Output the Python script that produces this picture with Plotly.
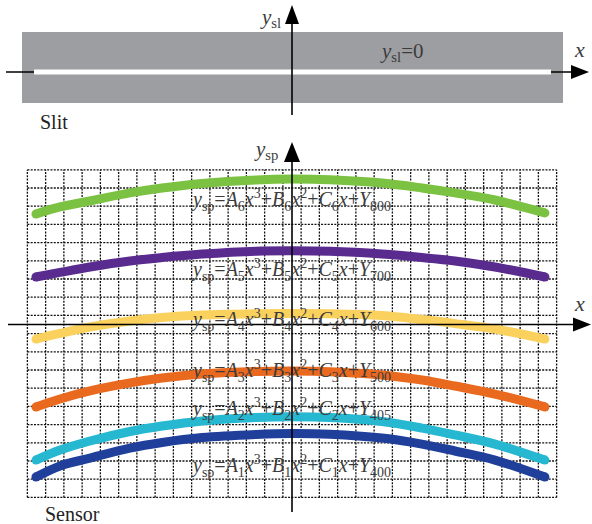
import plotly.graph_objects as go

W, H = 592, 524

# Sensor plane, in grid cells (origin on the optical axis, one cell = one unit)
x_cells = [-14.03, -12.71, -11.07, -8.88, -7.12, -4.93, -1.97, 0.0,
           2.08, 4.93, 7.12, 8.93, 11.12, 13.86]

y_800 = [6.07, 6.46, 6.79, 7.23, 7.50, 7.75, 7.94, 7.99, 7.95, 7.77, 7.50, 7.23, 6.84, 6.13]
y_700 = [2.61, 2.86, 3.16, 3.49, 3.68, 3.87, 4.03, 4.05, 4.02, 3.87, 3.68, 3.49, 3.16, 2.61]
y_600 = [-0.80, -0.49, -0.14, 0.19, 0.38, 0.52, 0.59, 0.60, 0.59, 0.49, 0.27, 0.05, -0.25, -0.80]
y_500 = [-4.53, -4.09, -3.65, -3.21, -2.94, -2.72, -2.58, -2.555, -2.59, -2.77, -3.05, -3.38, -3.82, -4.53]
y_405 = [-7.45, -6.90, -6.40, -5.88, -5.58, -5.30, -5.11, -5.07, -5.11, -5.33, -5.69, -6.07, -6.57, -7.45]
y_400 = [-8.38, -7.77, -7.34, -6.79, -6.48, -6.21, -6.04, -5.99, -6.03, -6.24, -6.57, -6.95, -7.45, -8.38]

curve_names = ["800", "700", "600", "500", "405", "400"]
curve_index = ["6", "5", "4", "3", "2", "1"]
curve_values = [y_800, y_700, y_600, y_500, y_405, y_400]
curve_colors = ["#7cc242", "#5a2b8f", "#fbd15e", "#e9691f", "#25b8d0", "#1f3f9b"]
label_y = [6.84, 3.02, 0.25, -2.58, -4.67, -7.75]

# grid extent in cells
grid_x = [i - 14.5 for i in range(30)]
grid_y = [i - 9.5 for i in range(19)]

# axis ranges (cells) covering the whole canvas
CELL_X, CELL_Y = 18.25, 18.2
X0_PX, Y0_PX = 292.0, 324.5
x_range = [-X0_PX / CELL_X, (W - X0_PX) / CELL_X]
y_range = [(Y0_PX - H) / CELL_Y, Y0_PX / CELL_Y]

SERIF = "Liberation Serif, Times New Roman, serif"
TXT = "#3c3c3c"


def px(x):
    return x / W


def py(y):
    return 1 - y / H


fig = go.Figure()
shapes = []
annotations = []

# dotted grid under the curves
GRID = dict(color="#111111", width=1.3, dash="2px,1.3px")
for gx in grid_x:
    shapes.append(dict(type="line", xref="x", yref="y", x0=gx, x1=gx,
                       y0=grid_y[0], y1=grid_y[-1], layer="below", line=GRID))
for gy in grid_y:
    shapes.append(dict(type="line", xref="x", yref="y", x0=grid_x[0], x1=grid_x[-1],
                       y0=gy, y1=gy, layer="below", line=GRID))

# spectral lines on the sensor
for vals, col in zip(curve_values, curve_colors):
    fig.add_trace(go.Scatter(x=x_cells, y=vals, mode="lines",
                             line=dict(color=col, width=9, shape="spline", smoothing=1.0),
                             hoverinfo="skip", showlegend=False))
    fig.add_trace(go.Scatter(x=[x_cells[0], x_cells[-1]], y=[vals[0], vals[-1]],
                             mode="markers", marker=dict(color=col, size=9, line=dict(width=0)),
                             hoverinfo="skip", showlegend=False))


def line(x0, y0, x1, y1, color="black", width=1.6):
    shapes.append(dict(type="line", xref="paper", yref="paper",
                       x0=px(x0), y0=py(y0), x1=px(x1), y1=py(y1),
                       line=dict(color=color, width=width)))


def arrow_right(tip_x, y, length=18, half=7):
    p = (f"M {px(tip_x)} {py(y)} L {px(tip_x - length)} {py(y - half)} "
         f"L {px(tip_x - length)} {py(y + half)} Z")
    shapes.append(dict(type="path", xref="paper", yref="paper", path=p,
                       fillcolor="black", line=dict(width=0)))


def arrow_up(x, tip_y, length=20, half=8):
    p = (f"M {px(x)} {py(tip_y)} L {px(x - half)} {py(tip_y + length)} "
         f"L {px(x + half)} {py(tip_y + length)} Z")
    shapes.append(dict(type="path", xref="paper", yref="paper", path=p,
                       fillcolor="black", line=dict(width=0)))


def text(x, y, s, size=20, anchor="center", color=TXT):
    annotations.append(dict(xref="paper", yref="paper", x=px(x), y=py(y), text=s,
                            showarrow=False, xanchor=anchor, yanchor="middle",
                            font=dict(family=SERIF, size=size, color=color)))


# ---- slit panel ----
SLIT_Y = 72
shapes.append(dict(type="rect", xref="paper", yref="paper",
                   x0=px(22), x1=px(563), y0=py(32), y1=py(103),
                   fillcolor="#9c9ea1", line=dict(width=0)))
line(6, SLIT_Y, 574, SLIT_Y)
arrow_right(589, SLIT_Y)
line(34, SLIT_Y, 551, SLIT_Y, color="white", width=5)
line(292, 115, 292, 22)
arrow_up(292, 5, length=19, half=7)

text(270, 18, "<i>y</i><sub>sl</sub>", 21)
text(401, 52, "<i>y</i><sub>sl</sub>=0", 21)
text(579, 49, "<i>x</i>", 22)
text(54, 122, "Slit", 20, color="#222222")

# ---- sensor panel ----
line(8, Y0_PX, 576, Y0_PX)
arrow_right(591, Y0_PX, length=18, half=7)
line(X0_PX, 512, X0_PX, 160)
arrow_up(X0_PX, 142, length=20, half=8)

text(266, 150, "<i>y</i><sub>sp</sub>", 21)
text(579, 303, "<i>x</i>", 22)
text(72, 514, "Sensor", 20, color="#222222")

for idx, name, ly in zip(curve_index, curve_names, label_y):
    s = (f"<i>y</i><sub>sp</sub>=<i>A</i><sub>{idx}</sub><i>x</i><sup>3</sup>"
         f"+<i>B</i><sub>{idx}</sub><i>x</i><sup>2</sup>+<i>C</i><sub>{idx}</sub><i>x</i>"
         f"+<i>Y</i><sub>{name}</sub>")
    annotations.append(dict(xref="x", yref="y", x=-0.05, y=ly, text=s, showarrow=False,
                            xanchor="center", yanchor="middle",
                            font=dict(family=SERIF, size=20, color=TXT)))

fig.update_layout(
    width=W, height=H, autosize=False,
    margin=dict(l=0, r=0, t=0, b=0),
    paper_bgcolor="white", plot_bgcolor="white",
    xaxis=dict(range=x_range, visible=False, fixedrange=True),
    yaxis=dict(range=y_range, visible=False, fixedrange=True),
    shapes=shapes, annotations=annotations,
)

fig.write_html("out.html")
